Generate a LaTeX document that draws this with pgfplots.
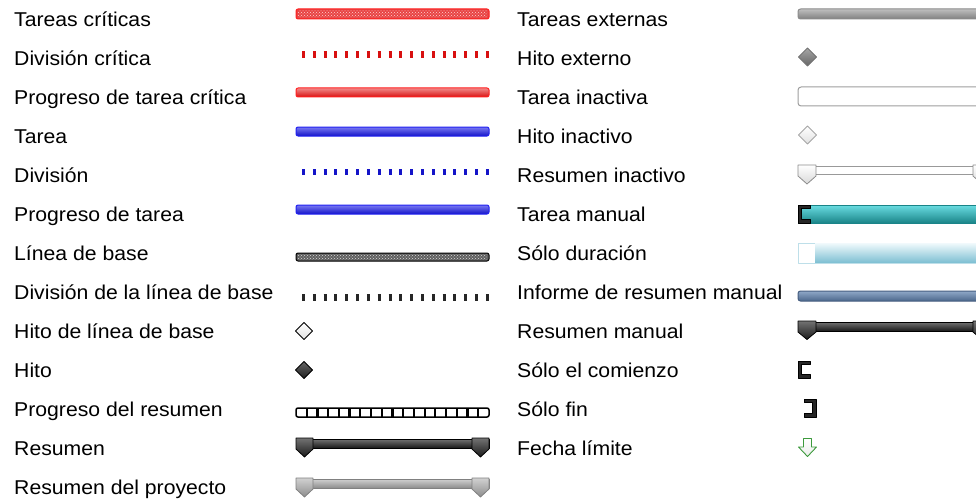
\documentclass[border=0pt]{standalone}
\usepackage{fontspec}
\setmainfont{Liberation Sans}[FakeStretch=1.06]
\usepackage{pgfplots}
\pgfplotsset{compat=1.18}
\usetikzlibrary{patterns}
\definecolor{critR}{HTML}{FF2020}
\definecolor{critFill}{HTML}{E84444}
\definecolor{critDot}{HTML}{FFD6D6}
\definecolor{critTop}{HTML}{F28A8A}
\definecolor{critBot}{HTML}{D81010}
\definecolor{taskB}{HTML}{2020F0}
\definecolor{taskTop}{HTML}{7878F2}
\definecolor{taskBot}{HTML}{1414C8}
\definecolor{tealTop}{HTML}{6ADDE2}
\definecolor{tealBot}{HTML}{1A8488}
\definecolor{durTop}{HTML}{EEF8FB}
\definecolor{durBot}{HTML}{7EBFD3}
\definecolor{rollTop}{HTML}{90A8C8}
\definecolor{rollBot}{HTML}{4B678C}
\definecolor{rollB}{HTML}{465E80}
\definecolor{greenA}{HTML}{3C9A3C}
\begin{document}
\begin{tikzpicture}
\begin{axis}[
  hide axis, scale only axis, width=976pt, height=500pt,
  xmin=0, xmax=976, ymin=0, ymax=500, y dir=reverse,
  clip=true, no markers,
  every axis plot/.append style={line join=round},
]
% ---------------- left column ----------------
% Tareas criticas
\addplot[draw=critR, fill=critFill, line width=1pt, rounded corners=2pt] coordinates {(296,9) (489,9) (489,19) (296,19)} -- cycle;
\addplot[draw=none, pattern=crosshatch dots, pattern color=critDot] coordinates {(298,10.5) (487,10.5) (487,17.5) (298,17.5)} -- cycle;
% Division critica
\addplot[draw=critBot, line width=7pt, dash pattern=on 3pt off 7.82pt] coordinates {(302,54.5) (489,54.5)};
% Progreso de tarea critica
\addplot[draw=critR, top color=critTop, bottom color=critBot, line width=1pt, rounded corners=2pt] coordinates {(296,88) (489,88) (489,97) (296,97)} -- cycle;
% Tarea
\addplot[draw=taskB, top color=taskTop, bottom color=taskBot, line width=1pt, rounded corners=2pt] coordinates {(296,127) (489,127) (489,136) (296,136)} -- cycle;
% Division
\addplot[draw=taskBot, line width=6.5pt, dash pattern=on 3pt off 7.82pt] coordinates {(302,172) (489,172)};
% Progreso de tarea
\addplot[draw=taskB, top color=taskTop, bottom color=taskBot, line width=1pt, rounded corners=2pt] coordinates {(296,205) (489,205) (489,214) (296,214)} -- cycle;
% Linea de base
\addplot[draw=black, fill=black!62, line width=1pt, rounded corners=2pt] coordinates {(296,253) (489,253) (489,261) (296,261)} -- cycle;
\addplot[draw=none, pattern=crosshatch dots, pattern color=black!15] coordinates {(298,254.5) (487,254.5) (487,259.5) (298,259.5)} -- cycle;
% Division de la linea de base
\addplot[draw=black!85, line width=7pt, dash pattern=on 3pt off 7.82pt] coordinates {(302,297.5) (489,297.5)};
% Hito de linea de base
\addplot[draw=black, top color=white, bottom color=black!12, line width=0.9pt] coordinates {(304,322.5) (312.5,331) (304,339.5) (295.5,331)} -- cycle;
% Hito
\addplot[draw=black, top color=black!60, bottom color=black!88, line width=0.9pt] coordinates {(304,361.5) (312.5,370) (304,378.5) (295.5,370)} -- cycle;
% Progreso del resumen
\addplot[draw=black, fill=white, line width=1.5pt, rounded corners=2pt] coordinates {(296,408) (489,408) (489,417) (296,417)} -- cycle;
\addplot[draw=black, line width=9pt, dash pattern=on 2.2pt off 8.52pt] coordinates {(305.6,412.5) (480,412.5)};
% Resumen
\addplot[draw=black, top color=black!55, bottom color=black!90, line width=1pt] coordinates {(296,439) (489,439) (489,448) (296,448)} -- cycle;
\addplot[draw=black, top color=black!55, bottom color=black!90, line width=0.8pt] coordinates {(296,438) (313,438) (313,449) (304.5,457) (296,449)} -- cycle;
\addplot[draw=black, top color=black!55, bottom color=black!90, line width=0.8pt] coordinates {(472,438) (489,438) (489,449) (480.5,457) (472,449)} -- cycle;
% Resumen del proyecto
\addplot[draw=black!50, top color=black!18, bottom color=black!45, line width=1pt] coordinates {(296,479) (489,479) (489,488) (296,488)} -- cycle;
\addplot[draw=black!50, top color=black!18, bottom color=black!45, line width=0.8pt] coordinates {(296,478) (313,478) (313,489) (304.5,497) (296,489)} -- cycle;
\addplot[draw=black!50, top color=black!18, bottom color=black!45, line width=0.8pt] coordinates {(472,478) (489,478) (489,489) (480.5,497) (472,489)} -- cycle;
% ---------------- right column ----------------
% Tareas externas
\addplot[draw=black!45, top color=black!25, bottom color=black!50, line width=1pt, rounded corners=2.5pt] coordinates {(798,9) (995,9) (995,19) (798,19)} -- cycle;
% Hito externo
\addplot[draw=black!55, top color=black!35, bottom color=black!60, line width=0.9pt] coordinates {(807.5,48) (816.5,57) (807.5,66) (798.5,57)} -- cycle;
% Tarea inactiva
\addplot[draw=black!38, fill=white, line width=1pt, rounded corners=3pt] coordinates {(798,87) (995,87) (995,106) (798,106)} -- cycle;
% Hito inactivo
\addplot[draw=black!35, top color=white, bottom color=black!12, line width=0.9pt] coordinates {(807.5,126) (816.5,135) (807.5,144) (798.5,135)} -- cycle;
% Resumen inactivo
\addplot[draw=black!40, fill=white, line width=1pt] coordinates {(798,166) (995,166) (995,174) (798,174)} -- cycle;
\addplot[draw=black!45, top color=white, bottom color=black!15, line width=0.8pt] coordinates {(798,165) (816,165) (816,176) (807,184) (798,176)} -- cycle;
\addplot[draw=black!45, top color=white, bottom color=black!15, line width=0.8pt] coordinates {(973,165) (991,165) (991,176) (982,184) (973,176)} -- cycle;
% Tarea manual
\addplot[draw=tealBot, top color=tealTop, bottom color=tealBot, line width=0.6pt] coordinates {(798,205) (995,205) (995,223) (798,223)} -- cycle;
\addplot[draw=black, fill=black!85, line width=0.4pt] coordinates {(798,205) (810,205) (810,208.5) (801.5,208.5) (801.5,219.5) (810,219.5) (810,223) (798,223)} -- cycle;
% Solo duracion
\addplot[draw=durBot!50, fill=white, line width=0.6pt] coordinates {(798,243) (995,243) (995,263) (798,263)} -- cycle;
\addplot[draw=none, top color=durTop, bottom color=durBot] coordinates {(815,243.5) (995,243.5) (995,262.5) (815,262.5)} -- cycle;
% Informe de resumen manual
\addplot[draw=rollB, top color=rollTop, bottom color=rollBot, line width=1pt, rounded corners=2.5pt] coordinates {(798,291) (995,291) (995,301) (798,301)} -- cycle;
% Resumen manual
\addplot[draw=black, top color=black!55, bottom color=black!90, line width=1pt] coordinates {(798,322) (995,322) (995,331) (798,331)} -- cycle;
\addplot[draw=black, top color=black!55, bottom color=black!90, line width=0.8pt] coordinates {(798,321) (816,321) (816,332) (807,339.5) (798,332)} -- cycle;
\addplot[draw=black, top color=black!55, bottom color=black!90, line width=0.8pt] coordinates {(973,321) (991,321) (991,332) (982,339.5) (973,332)} -- cycle;
% Solo el comienzo
\addplot[draw=black, fill=black!85, line width=0.4pt] coordinates {(798,361) (810,361) (810,364.5) (801.5,364.5) (801.5,374.5) (810,374.5) (810,378) (798,378)} -- cycle;
% Solo fin
\addplot[draw=black, fill=black!85, line width=0.4pt] coordinates {(804,399) (816,399) (816,417) (804,417) (804,413.5) (812.5,413.5) (812.5,402.5) (804,402.5)} -- cycle;
% Fecha limite
\addplot[draw=greenA, top color=white, bottom color=green!8!black!8, line width=0.9pt] coordinates {(803.5,438.5) (811.5,438.5) (811.5,447) (816.5,447) (807.5,456.5) (798.5,447) (803.5,447)} -- cycle;
% ---------------- texts ----------------
\begin{scope}[every node/.style={anchor=base west, inner sep=0pt, font=\fontsize{20}{24}\selectfont, text=black}]
\node at (axis cs:14,26.5) {Tareas críticas};
\node at (axis cs:14,65.5) {División crítica};
\node at (axis cs:14,104.5) {Progreso de tarea crítica};
\node at (axis cs:14,143.5) {Tarea};
\node at (axis cs:14,182.5) {División};
\node at (axis cs:14,221.5) {Progreso de tarea};
\node at (axis cs:14,260.5) {Línea de base};
\node at (axis cs:14,299.5) {División de la línea de base};
\node at (axis cs:14,338.5) {Hito de línea de base};
\node at (axis cs:14,377.5) {Hito};
\node at (axis cs:14,416.5) {Progreso del resumen};
\node at (axis cs:14,455.5) {Resumen};
\node at (axis cs:14,494.5) {Resumen del proyecto};
\node at (axis cs:517,26.5) {Tareas externas};
\node at (axis cs:517,65.5) {Hito externo};
\node at (axis cs:517,104.5) {Tarea inactiva};
\node at (axis cs:517,143.5) {Hito inactivo};
\node at (axis cs:517,182.5) {Resumen inactivo};
\node at (axis cs:517,221.5) {Tarea manual};
\node at (axis cs:517,260.5) {Sólo duración};
\node at (axis cs:517,299.5) {Informe de resumen manual};
\node at (axis cs:517,338.5) {Resumen manual};
\node at (axis cs:517,377.5) {Sólo el comienzo};
\node at (axis cs:517,416.5) {Sólo fin};
\node at (axis cs:517,455.5) {Fecha límite};
\end{scope}
\end{axis}
\pgfresetboundingbox
\path[use as bounding box] (current axis.south west) rectangle (current axis.north east);
\end{tikzpicture}
\end{document}
